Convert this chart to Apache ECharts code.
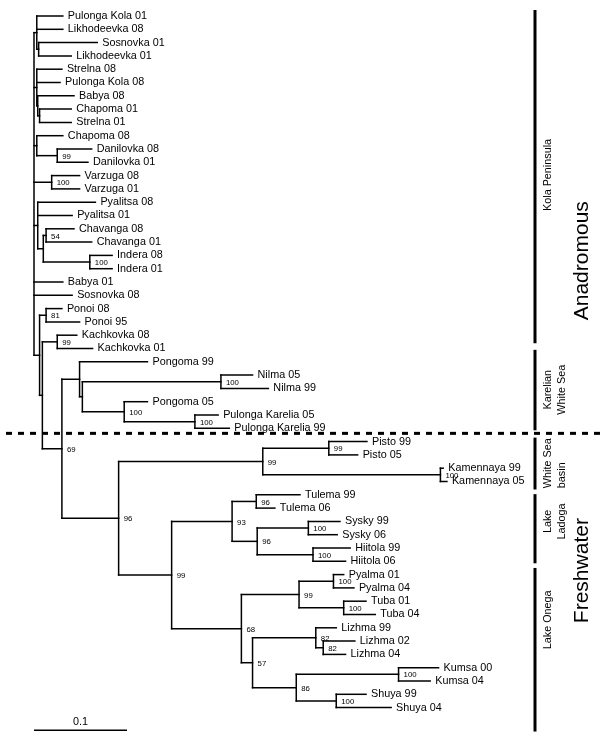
<!DOCTYPE html>
<html><head><meta charset="utf-8">
<script src="https://cdn.jsdelivr.net/npm/echarts@6/dist/echarts.min.js"></script>
<style>html,body{margin:0;padding:0;background:#fff}#c{width:600px;height:740px}</style>
</head><body><div id="c"></div>
<script>
// ---------- DATA ----------
const leafNames = ['Pulonga Kola 01','Likhodeevka 08','Sosnovka 01','Likhodeevka 01','Strelna 08','Pulonga Kola 08','Babya 08','Chapoma 01','Strelna 01','Chapoma 08','Danilovka 08','Danilovka 01','Varzuga 08','Varzuga 01','Pyalitsa 08','Pyalitsa 01','Chavanga 08','Chavanga 01','Indera 08','Indera 01','Babya 01','Sosnovka 08','Ponoi 08','Ponoi 95','Kachkovka 08','Kachkovka 01','Pongoma 99','Nilma 05','Nilma 99','Pongoma 05','Pulonga Karelia 05','Pulonga Karelia 99','Pisto 99','Pisto 05','Kamennaya 99','Kamennaya 05','Tulema 99','Tulema 06','Sysky 99','Sysky 06','Hiitola 99','Hiitola 06','Pyalma 01','Pyalma 04','Tuba 01','Tuba 04','Lizhma 99','Lizhma 02','Lizhma 04','Kumsa 00','Kumsa 04','Shuya 99','Shuya 04'];
// internal node each leaf hangs from
const leafParent = [1,1,2,2,3,3,4,5,5,6,7,7,8,8,9,9,11,11,12,12,0,0,14,14,16,16,18,20,20,21,22,22,25,25,26,26,29,29,31,31,32,32,35,35,36,36,38,39,39,41,41,42,42];
// distance of each tip from the root (substitutions per site)
const leafDepth = [0.031,0.031,0.068,0.040,0.030,0.028,0.043,0.040,0.040,0.031,0.062,0.058,0.049,0.049,0.066,0.041,0.043,0.062,0.084,0.084,0.031,0.041,0.030,0.049,0.046,0.063,0.122,0.235,0.252,0.122,0.198,0.210,0.358,0.348,0.440,0.444,0.286,0.259,0.329,0.326,0.340,0.335,0.333,0.344,0.357,0.367,0.325,0.345,0.335,0.435,0.426,0.357,0.384];
// internal nodes: distance from root, parent node, bootstrap support
const nodeDepth = [0,0.003,0.005,0.003,0.004,0.006,0.003,0.025,0.019,0.004,0.010,0.013,0.060,0.006,0.013,0.009,0.025,0.030,0.049,0.052,0.201,0.097,0.173,0.091,0.246,0.317,0.437,0.148,0.213,0.239,0.240,0.295,0.300,0.223,0.285,0.322,0.333,0.235,0.303,0.311,0.282,0.392,0.325];
const nodeParent = [-1,0,1,0,3,4,0,6,0,0,9,10,10,0,13,13,15,15,17,18,19,19,21,17,23,24,24,23,27,28,28,30,30,27,33,34,34,33,37,38,37,40,40];
const nodeSupport = ['','','','','','','','99','100','','','54','100','','81','','99','69','','','100','100','100','96','99','99','100','99','93','96','96','100','100','68','99','100','100','57','82','82','86','100','100'];
// clade annotation bars (in leaf-row units)
const cladeNames = ['Kola Peninsula','Karelian\nWhite Sea','White Sea\nbasin','Lake\nLadoga','Lake Onega'];
const cladeFrom = [-0.45,25.1,31.7,35.95,41.5];
const cladeTo = [24.6,31.15,35.6,41.15,53.8];
const cladeLabelAt = [11.95,28.1,35.5,38.0,45.4];
const groupNames = ['Anadromous','Freshwater'];
const groupLabelAt = [18.4,41.7];
const dividerRow = 31.38;
const scaleBarLength = 0.1;
const scaleBarLabel = '0.1';
const scaleBarRow = 53.7;

// ---------- STYLE / LAYOUT ----------
const FONT = '"Liberation Sans", Arial, Helvetica, sans-serif';
const LW = 1.5;
const BAR_X = 535, CLADE_TEXT_X = 541, GROUP_TEXT_X = 582;
const cladeTextAlign = ['center','center','left','center','center'];

// ---------- LAYOUT OF THE TREE ----------
const nNodes = nodeDepth.length;
const children = Array.from({length: nNodes}, () => []);
leafParent.forEach((p, i) => children[p].push({leaf: true, i}));
nodeParent.forEach((p, i) => { if (p >= 0) children[p].push({leaf: false, i}); });
const nodeY = new Array(nNodes);
function childY(c) { return c.leaf ? c.i : computeY(c.i); }
function childX(c) { return c.leaf ? leafDepth[c.i] : nodeDepth[c.i]; }
function computeY(n) {
  if (nodeY[n] !== undefined) return nodeY[n];
  const ys = children[n].map(childY);
  nodeY[n] = (Math.min(...ys) + Math.max(...ys)) / 2;
  return nodeY[n];
}
for (let n = 0; n < nNodes; n++) computeY(n);
const segments = [];
for (let n = 0; n < nNodes; n++) {
  const ys = children[n].map(childY);
  segments.push([nodeDepth[n], Math.min(...ys), nodeDepth[n], Math.max(...ys)]);
  children[n].forEach(c => segments.push([nodeDepth[n], childY(c), childX(c), childY(c)]));
}
const supportData = [];
nodeSupport.forEach((s, n) => { if (s) supportData.push([nodeDepth[n], nodeY[n], n]); });

const chart = echarts.init(document.getElementById('c'), null, {renderer: 'canvas'});
chart.setOption({
  animation: false,
  backgroundColor: '#fff',
  grid: {left: 34, top: 16, width: 558, height: 52 * 13.3},
  xAxis: {type: 'value', min: 0, max: 0.6, show: false},
  yAxis: {type: 'value', min: 0, max: 52, inverse: true, show: false},
  series: [
    { // branches
      type: 'custom', clip: false, silent: true,
      data: segments,
      renderItem: (params, api) => {
        const a = api.coord([api.value(0), api.value(1)]);
        const b = api.coord([api.value(2), api.value(3)]);
        return {type: 'line', shape: {x1: a[0], y1: a[1], x2: b[0], y2: b[1]},
          style: {stroke: '#000', lineWidth: LW, lineCap: 'square'}};
      }
    },
    { // tip labels
      type: 'custom', clip: false, silent: true,
      data: leafNames.map((n, i) => [leafDepth[i], i]),
      renderItem: (params, api) => {
        const p = api.coord([api.value(0), api.value(1)]);
        return {type: 'text', x: p[0] + 5, y: p[1],
          style: {text: leafNames[params.dataIndex], fill: '#000', font: '10.8px ' + FONT, align: 'left', verticalAlign: 'middle'}};
      }
    },
    { // bootstrap values
      type: 'custom', clip: false, silent: true,
      data: supportData,
      renderItem: (params, api) => {
        const p = api.coord([api.value(0), api.value(1)]);
        const n = supportData[params.dataIndex][2];
        return {type: 'text', x: p[0] + 5, y: p[1] + 1,
          style: {text: nodeSupport[n], fill: '#000', font: '7.8px ' + FONT, align: 'left', verticalAlign: 'middle'}};
      }
    },
    { // clade bars + labels
      type: 'custom', clip: false, silent: true,
      data: cladeNames.map((n, i) => [0, cladeFrom[i], cladeTo[i], cladeLabelAt[i]]),
      renderItem: (params, api) => {
        const y1 = api.coord([0, api.value(1)])[1];
        const y2 = api.coord([0, api.value(2)])[1];
        const yl = api.coord([0, api.value(3)])[1];
        return {type: 'group', children: [
          {type: 'line', shape: {x1: BAR_X, y1: y1, x2: BAR_X, y2: y2}, style: {stroke: '#000', lineWidth: 3}},
          {type: 'text', x: CLADE_TEXT_X, y: yl, rotation: Math.PI / 2,
            style: {text: cladeNames[params.dataIndex], fill: '#000', font: '10.8px ' + FONT, lineHeight: 14, align: cladeTextAlign[params.dataIndex], verticalAlign: 'top'}}
        ]};
      }
    },
    { // group labels
      type: 'custom', clip: false, silent: true,
      data: groupNames.map((n, i) => [0, groupLabelAt[i]]),
      renderItem: (params, api) => {
        const y = api.coord([0, api.value(1)])[1];
        return {type: 'text', x: GROUP_TEXT_X, y: y, rotation: Math.PI / 2,
          style: {text: groupNames[params.dataIndex], fill: '#000', font: '21px ' + FONT, align: 'center', verticalAlign: 'middle'}};
      }
    },
    { // divider and scale bar
      type: 'custom', clip: false, silent: true,
      data: [[0, dividerRow, scaleBarLength, scaleBarRow]],
      renderItem: (params, api) => {
        const yd = api.coord([0, api.value(1)])[1];
        const s0 = api.coord([0, api.value(3)]);
        const s1 = api.coord([api.value(2), api.value(3)]);
        return {type: 'group', children: [
          {type: 'line', shape: {x1: 6, y1: yd, x2: 600, y2: yd}, style: {stroke: '#000', lineWidth: 3, lineDash: [6, 6]}},
          {type: 'line', shape: {x1: s0[0], y1: s0[1], x2: s1[0], y2: s1[1]}, style: {stroke: '#000', lineWidth: 1.5}},
          {type: 'text', x: (s0[0] + s1[0]) / 2, y: s0[1] - 3, style: {text: scaleBarLabel, fill: '#000', font: '10.8px ' + FONT, align: 'center', verticalAlign: 'bottom'}}
        ]};
      }
    }
  ]
});
</script></body></html>
